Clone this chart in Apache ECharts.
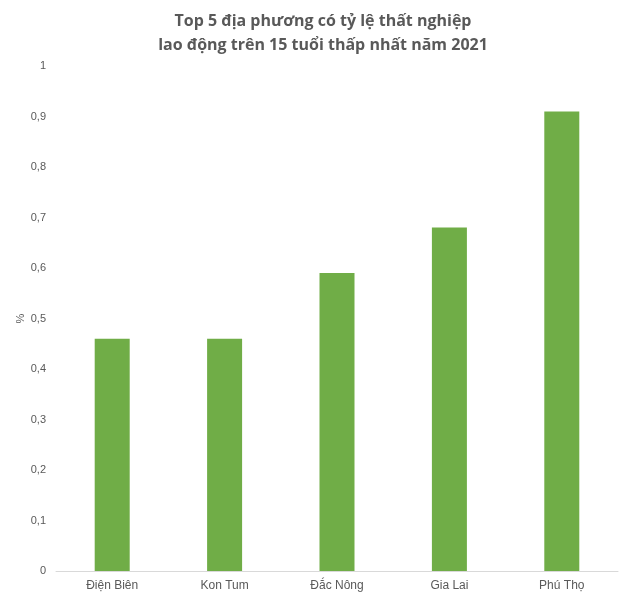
<!DOCTYPE html>
<html><head><meta charset="utf-8">
<script src="https://cdn.jsdelivr.net/npm/echarts@6/dist/echarts.min.js"></script>
<style>html,body{margin:0;padding:0;background:#fff}#c{width:630px;height:600px}</style>
</head><body><div id="c"></div>
<script>
const categories = ['Điện Biên', 'Kon Tum', 'Đắc Nông', 'Gia Lai', 'Phú Thọ'];
const values = [0.46, 0.46, 0.59, 0.68, 0.91];
const titleLines = ['Top 5 địa phương có tỷ lệ thất nghiệp', 'lao động trên 15 tuổi thấp nhất năm 2021'];

const chart = echarts.init(document.getElementById('c'));
chart.setOption({
  animation: false,
  backgroundColor: '#fff',
  title: {
    text: titleLines.join('\n'),
    left: 318, top: 4, textAlign: 'center',
    textStyle: { fontFamily: 'Open Sans', fontWeight: 'bold', fontSize: 16, color: '#595959', lineHeight: 24 }
  },
  grid: { left: 56, right: 12, top: 66, bottom: 29 },
  xAxis: {
    type: 'category', data: categories,
    axisLine: { lineStyle: { color: '#d9d9d9' } },
    axisTick: { show: false },
    axisLabel: { color: '#595959', fontFamily: 'Liberation Sans', fontSize: 12, margin: 9 }
  },
  yAxis: {
    type: 'value', min: 0, max: 1, interval: 0.1,
    name: '%', nameLocation: 'middle', nameGap: 30, nameRotate: 90, nameMoveOverlap: false,
    nameTextStyle: { color: '#595959', fontFamily: 'Liberation Sans', fontSize: 11 },
    splitLine: { show: false },
    axisLine: { show: false }, axisTick: { show: false },
    axisLabel: { color: '#595959', fontFamily: 'Liberation Sans', fontSize: 11, margin: 10,
      formatter: v => String(Math.round(v * 10) / 10).replace('.', ',') }
  },
  series: [{
    type: 'bar', data: values, barWidth: 35,
    itemStyle: { color: '#70ad47' }
  }]
});
</script></body></html>
